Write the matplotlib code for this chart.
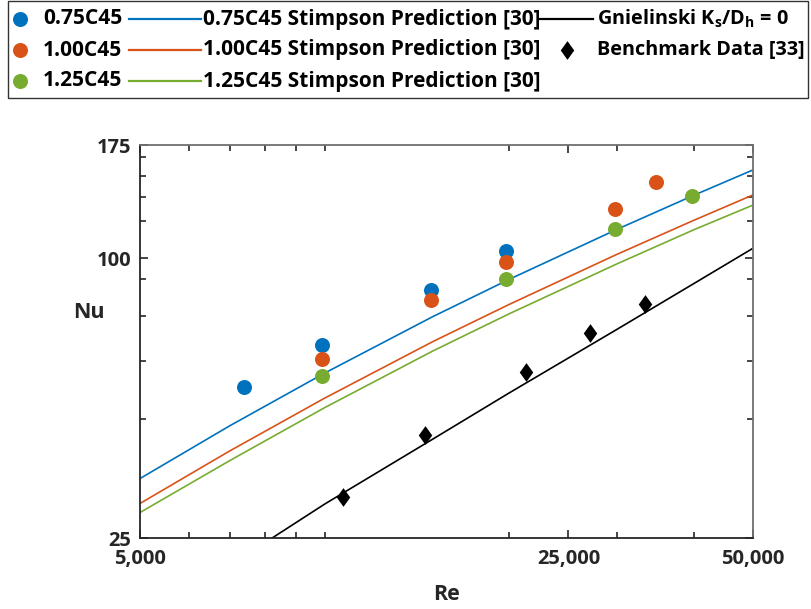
import matplotlib
matplotlib.use("Agg")
import matplotlib.pyplot as plt
from matplotlib.patches import Rectangle
from matplotlib.path import Path
from matplotlib.ticker import FixedLocator, NullFormatter, FixedFormatter

# ---- data -------------------------------------------------------------
re_075 = [7400, 9900, 14900, 19800]
nu_075 = [52.9, 65.1, 85.4, 103.6]

re_100 = [9900, 14900, 19800, 29800, 34700]
nu_100 = [60.7, 81.3, 98.2, 127.5, 145.5]

re_125 = [9900, 19800, 29800, 39700]
nu_125 = [55.8, 90.0, 115.3, 136.0]

re_bench = [10700, 14600, 21300, 27100, 33300]
nu_bench = [30.7, 41.6, 56.8, 68.9, 79.7]

re_pred = [5000, 7000, 10000, 15000, 20000, 30000, 40000, 50000]
nu_pred_075 = [33.6, 43.6, 56.6, 74.8, 90.0, 115.3, 136.4, 154.7]
nu_pred_100 = [29.7, 38.5, 50.0, 66.1, 79.5, 101.9, 120.5, 136.7]
nu_pred_125 = [28.4, 36.7, 47.7, 63.1, 75.9, 97.2, 115.0, 130.0]

re_gniel = [8200, 10000, 15000, 20000, 30000, 40000, 50000]
nu_gniel = [25.0, 29.6, 40.8, 51.3, 70.3, 88.1, 105.0]

x_major = [5000, 25000, 50000]
x_major_labels = ["5,000", "25,000", "50,000"]
x_minor = [6000, 7000, 8000, 9000, 10000, 20000, 30000, 40000]
y_major = [25, 100, 175]
y_major_labels = ["25", "100", "175"]
y_minor = [45, 60, 75, 90, 120, 135, 150, 165]

labels = ["0.75C45", "1.00C45", "1.25C45"]
pred_labels = ["0.75C45 Stimpson Prediction [30]",
               "1.00C45 Stimpson Prediction [30]",
               "1.25C45 Stimpson Prediction [30]"]
gniel_label = r"Gnielinski K$_{s}$/D$_{h}$ = 0"
bench_label = "Benchmark Data [33]"

# ---- style ------------------------------------------------------------
BLUE, ORANGE, GREEN = "#0072BD", "#D95319", "#77AC30"
AXC = "#262626"
FONT = "Open Sans"
plt.rcParams["font.family"] = [FONT, "DejaVu Sans"]
plt.rcParams["font.weight"] = "bold"
plt.rcParams["mathtext.fontset"] = "custom"
plt.rcParams["mathtext.rm"] = FONT + ":bold"
plt.rcParams["mathtext.it"] = FONT + ":bold"
plt.rcParams["mathtext.bf"] = FONT + ":bold"

diamond = Path([(0, 1), (0.72, 0), (0, -1), (-0.72, 0), (0, 1)],
               [Path.MOVETO, Path.LINETO, Path.LINETO, Path.LINETO, Path.CLOSEPOLY])

W, H = 811, 609
fig = plt.figure(figsize=(W / 100, H / 100), dpi=100)
ax = fig.add_axes([140 / W, 1 - 538.3 / H, (753 - 140) / W, (538.3 - 145) / H])

ax.set_xscale("log")
ax.set_yscale("log")

lw = 1.2
ax.plot(re_pred, nu_pred_075, color=BLUE, lw=lw, zorder=2)
ax.plot(re_pred, nu_pred_100, color=ORANGE, lw=lw, zorder=2)
ax.plot(re_pred, nu_pred_125, color=GREEN, lw=lw, zorder=2)
ax.plot(re_gniel, nu_gniel, color="black", lw=lw, zorder=2)

ms = 10.8
ax.plot(re_075, nu_075, "o", color=BLUE, ms=ms, mec="none", zorder=3)
ax.plot(re_100, nu_100, "o", color=ORANGE, ms=ms, mec="none", zorder=3)
ax.plot(re_125, nu_125, "o", color=GREEN, ms=ms, mec="none", zorder=3)
ax.plot(re_bench, nu_bench, marker=diamond, ls="none", color="black",
        ms=13.5, mec="none", zorder=3)

ax.set_xlim(5000, 50000)
ax.set_ylim(25, 175)

ax.xaxis.set_major_locator(FixedLocator(x_major))
ax.xaxis.set_major_formatter(FixedFormatter(x_major_labels))
ax.xaxis.set_minor_locator(FixedLocator(x_minor))
ax.xaxis.set_minor_formatter(NullFormatter())
ax.yaxis.set_major_locator(FixedLocator(y_major))
ax.yaxis.set_major_formatter(FixedFormatter(y_major_labels))
ax.yaxis.set_minor_locator(FixedLocator(y_minor))
ax.yaxis.set_minor_formatter(NullFormatter())

ax.tick_params(which="both", direction="in", top=True, right=True,
               color=AXC, labelcolor=AXC, labelsize=14.5)
ax.tick_params(axis="y", pad=6)
ax.tick_params(axis="x", pad=7.5)
ax.tick_params(which="major", length=5.5, width=1.2)
ax.tick_params(which="minor", length=4, width=1.2)
for t in ax.get_xticklabels() + ax.get_yticklabels():
    t.set_fontweight("bold")
for s in ax.spines.values():
    s.set_color(AXC)
    s.set_linewidth(1.3)
for side in ("top", "right"):
    ax.spines[side].set_color("#707070")

ax.set_xlabel("Re", fontsize=15.5, fontweight="bold", color=AXC, labelpad=11)
ax.set_ylabel("Nu", fontsize=15.5, fontweight="bold", color=AXC, rotation=0)
ax.yaxis.set_label_coords(-0.083, 0.547)

# ---- legend panel across the top ----------------------------------------
lg = fig.add_axes([0, 0, 1, 1], zorder=5)
lg.set_xlim(0, W)
lg.set_ylim(H, 0)
lg.axis("off")
lg.add_patch(Rectangle((8, 1), 800, 97, fill=False, ec="#333333", lw=1.0))

rows = [19, 50, 81]
fs = 15.0
fs3 = 14.3
for y, c, lab, plab in zip(rows, [BLUE, ORANGE, GREEN], labels, pred_labels):
    lg.plot([20], [y], "o", color=c, ms=ms, mec="none")
    lg.text(43, y, lab, fontsize=fs, fontweight="bold", va="center", ha="left", color="black")
    lg.plot([129, 201], [y, y], color=c, lw=1.6)
    lg.text(203, y, plab, fontsize=fs, fontweight="bold", va="center", ha="left", color="black")

lg.plot([540, 593], [rows[0], rows[0]], color="black", lw=1.6)
lg.text(597, rows[0], gniel_label, fontsize=fs3, fontweight="bold", va="center", ha="left")
lg.plot([567], [rows[1]], marker=diamond, color="black", ms=13.5, mec="none", ls="none")
lg.text(597, rows[1], bench_label, fontsize=fs3, fontweight="bold", va="center", ha="left")

fig.savefig("out.png", dpi=100)
